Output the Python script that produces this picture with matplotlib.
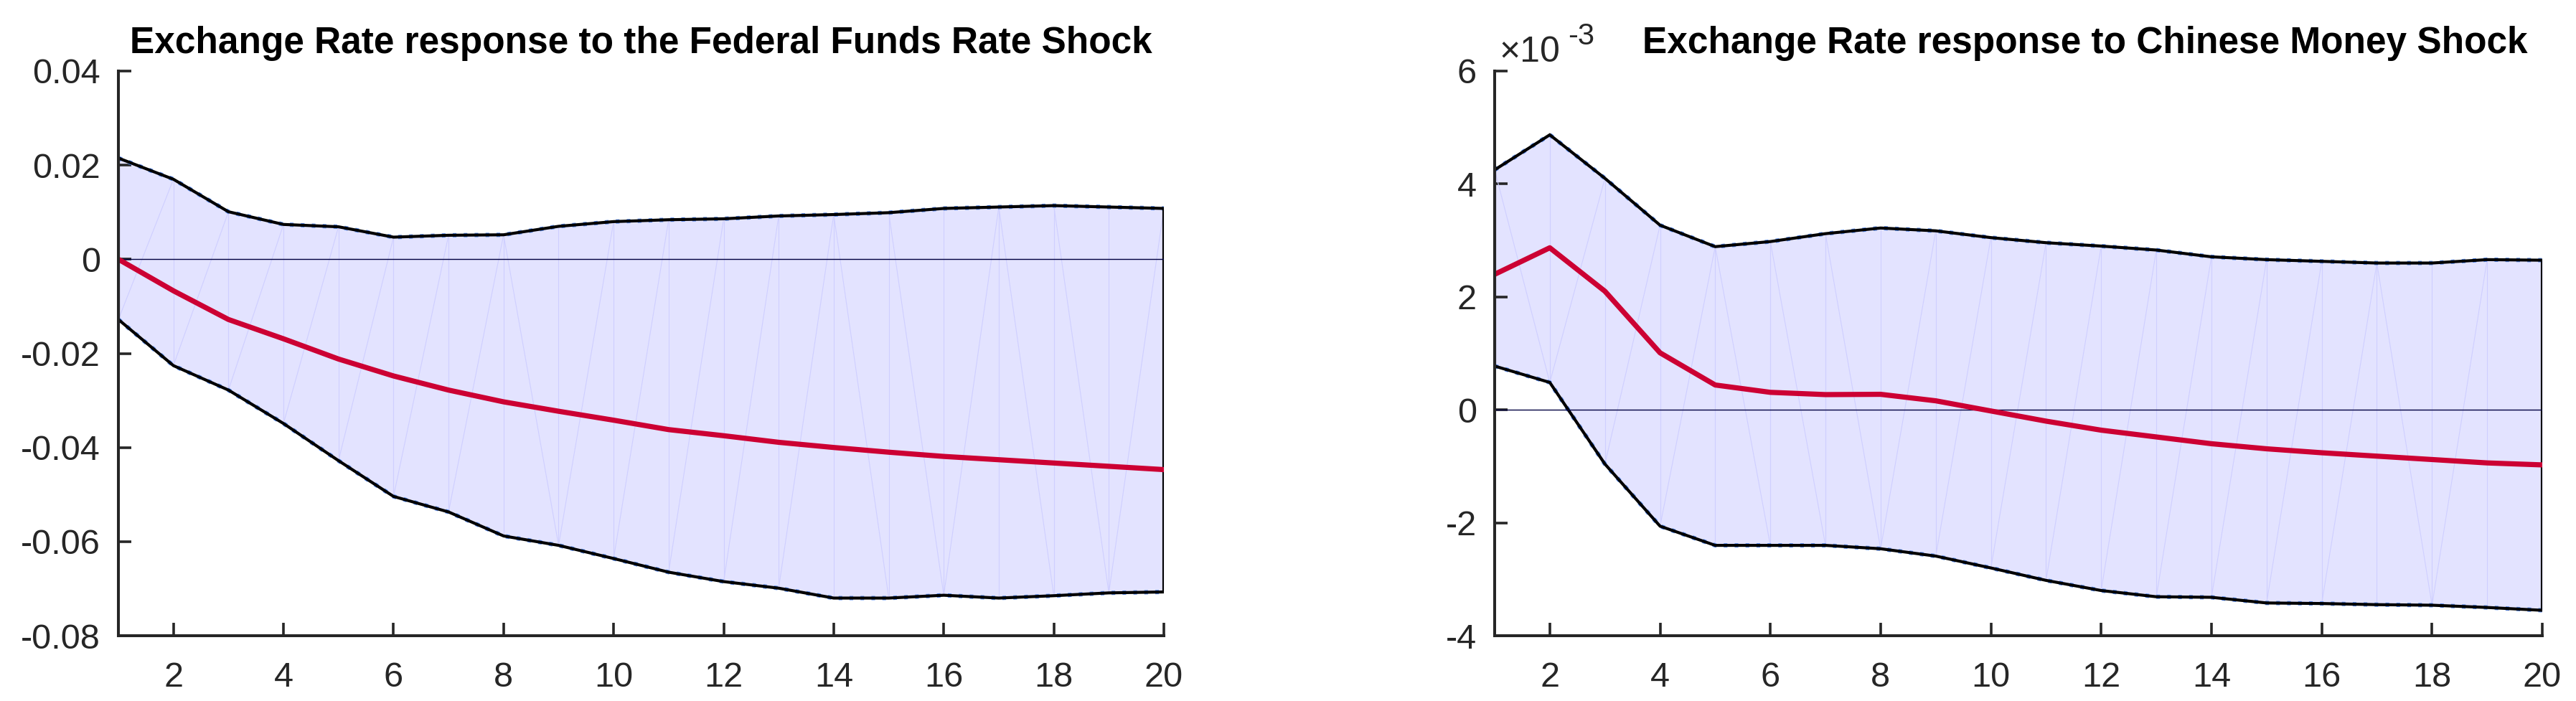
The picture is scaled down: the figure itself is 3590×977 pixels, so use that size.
import numpy as np
import matplotlib
matplotlib.use("Agg")
import matplotlib.pyplot as plt
from matplotlib.ticker import FuncFormatter

plt.rcParams["font.family"] = ["Liberation Sans", "DejaVu Sans"]

# ----------------------------
# Data
# ----------------------------
horizon = np.arange(1, 21)

# Federal Funds Rate shock
ffr_upper = [0.0215, 0.0170, 0.0101, 0.0074, 0.0069, 0.0047, 0.0051, 0.0052, 0.0070, 0.0080,
             0.0084, 0.0086, 0.0092, 0.0095, 0.0099, 0.0108, 0.0111, 0.0114, 0.0111, 0.0108]
ffr_median = [0.0, -0.0067, -0.0128, -0.0169, -0.0212, -0.0248, -0.0278, -0.0303, -0.0323, -0.0342,
              -0.0362, -0.0375, -0.0389, -0.0400, -0.0410, -0.0419, -0.0426, -0.0433, -0.0440, -0.0447]
ffr_lower = [-0.0128, -0.0226, -0.0278, -0.0349, -0.0428, -0.0504, -0.0537, -0.0588, -0.0608, -0.0636,
             -0.0665, -0.0685, -0.0699, -0.0720, -0.0720, -0.0714, -0.0720, -0.0715, -0.0709, -0.0707]

# Chinese money shock (values in units of 1e-3)
cms_upper = [4.25, 4.87, 4.10, 3.27, 2.89, 2.98, 3.12, 3.22, 3.17, 3.05,
             2.96, 2.90, 2.83, 2.71, 2.66, 2.63, 2.60, 2.60, 2.66, 2.65]
cms_median = [2.40, 2.87, 2.10, 1.01, 0.44, 0.31, 0.27, 0.275, 0.16, -0.02,
              -0.20, -0.36, -0.48, -0.60, -0.69, -0.76, -0.82, -0.88, -0.94, -0.975]
cms_lower = [0.775, 0.485, -0.96, -2.06, -2.40, -2.40, -2.40, -2.46, -2.59, -2.80,
             -3.02, -3.20, -3.31, -3.32, -3.42, -3.43, -3.45, -3.46, -3.50, -3.55]
cms_scale = 1e-3

# direction of the faint patch triangulation per segment ("/" or "\")
ffr_diag = list("///////\\/////\\\\/\\\\/")
cms_diag = list("\\///\\\\\\/////////\\/")

titles = ["Exchange Rate response to the Federal Funds Rate Shock",
          "Exchange Rate response to Chinese Money Shock"]

FILL = "#E3E3FF"
TRI = "#CFCFFF"
RED = "#CC0033"
BLUE = "#5A8CF0"
GREY = "#262626"


def draw_panel(ax, x, lo, mid, hi, diag):
    lo = np.asarray(lo)
    hi = np.asarray(hi)
    ax.fill_between(x, lo, hi, color=FILL, lw=0, zorder=1)
    # faint triangulation artefacts of the patch
    for i in range(len(x)):
        ax.plot([x[i], x[i]], [lo[i], hi[i]], color=TRI, lw=0.8, zorder=2)
    for i, d in enumerate(diag):
        if d == "/":
            ax.plot([x[i], x[i + 1]], [lo[i], hi[i + 1]], color=TRI, lw=0.8, zorder=2)
        else:
            ax.plot([x[i], x[i + 1]], [hi[i], lo[i + 1]], color=TRI, lw=0.8, zorder=2)
    # band edges
    ax.plot(x, hi, color=BLUE, lw=4.3, ls=(0, (0.85, 1.7)), zorder=3)
    ax.plot(x, lo, color=BLUE, lw=4.3, ls=(0, (0.85, 1.7)), zorder=3)
    px = np.concatenate([x, x[::-1], x[:1]])
    py = np.concatenate([hi, lo[::-1], hi[:1]])
    ax.plot(px, py, color="black", lw=3.0, zorder=4, solid_joinstyle="miter")
    ax.axhline(0, color="#000040", lw=1.0, zorder=5)
    ax.plot(x, mid, color=RED, lw=5.2, zorder=6)

    ax.set_xlim(1, 20)
    ax.set_xticks(np.arange(2, 21, 2))
    for s in ["top", "right"]:
        ax.spines[s].set_visible(False)
    for s in ["left", "bottom"]:
        ax.spines[s].set_linewidth(2.9)
        ax.spines[s].set_color(GREY)
        ax.spines[s].set_zorder(7)
    ax.tick_params(direction="in", length=13, width=2.6, color=GREY,
                   labelcolor=GREY, labelsize=35)
    ax.tick_params(axis="y", pad=18)
    ax.tick_params(axis="x", pad=26)


fig = plt.figure(figsize=(35.9, 9.77), dpi=100)
ax1 = fig.add_axes([0.04596, 0.09314, 0.40585, 0.80553])
ax2 = fig.add_axes([0.58022, 0.09314, 0.40669, 0.80553])

# ----------------------------
# Left: Federal Funds Rate shock
# ----------------------------
draw_panel(ax1, horizon, ffr_lower, ffr_median, ffr_upper, ffr_diag)
ax1.set_ylim(-0.08, 0.04)
ax1.set_yticks(np.arange(-0.08, 0.041, 0.02))
ax1.yaxis.set_major_formatter(FuncFormatter(lambda v, p: f"{round(v, 4):g}"))
ax1.set_title(titles[0], fontsize=37, fontweight="bold", pad=18)

# ----------------------------
# Right: Chinese money shock
# ----------------------------
draw_panel(ax2, horizon,
           np.array(cms_lower) * cms_scale,
           np.array(cms_median) * cms_scale,
           np.array(cms_upper) * cms_scale, cms_diag)
ax2.set_ylim(-0.004, 0.006)
ax2.set_yticks(np.arange(-0.004, 0.0061, 0.002))
ax2.yaxis.set_major_formatter(FuncFormatter(lambda v, p: f"{round(v / cms_scale, 4):g}"))
ax2.set_title(titles[1], fontsize=37, fontweight="bold", pad=18, x=0.5637)
ax2.text(0.0048, 1.0165, "\u00d710", transform=ax2.transAxes, fontsize=36,
         color=GREY, ha="left", va="baseline")
ax2.text(0.0699, 1.047, "-3", transform=ax2.transAxes, fontsize=30,
         color=GREY, ha="left", va="baseline")

fig.savefig("out.png", dpi=100)
